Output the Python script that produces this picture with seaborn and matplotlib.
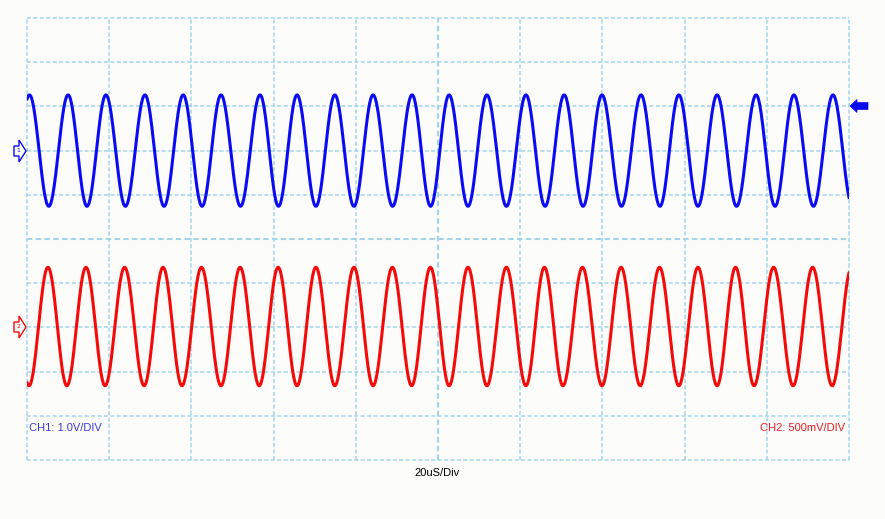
import numpy as np
import pandas as pd
import matplotlib
matplotlib.use("Agg")
import matplotlib.pyplot as plt
from matplotlib.patches import Polygon
import seaborn as sns

# ---- data (time in µs, level in screen divisions) ----
ch1_peak_times = [0.6, 10.0, 19.2, 28.7, 38.0, 47.2, 56.7, 65.7, 74.9, 84.2, 93.7,
                  102.7, 111.9, 121.4, 130.7, 139.9, 149.4, 158.6, 167.9, 177.4, 186.6, 196.1]
ch1_high = 3.26
ch1_low = 0.74

ch2_trough_times = [0.5, 9.7, 19.0, 28.5, 37.7, 47.2, 56.5, 65.7, 74.9, 84.2, 93.6,
                    102.7, 111.9, 121.4, 130.4, 139.9, 149.2, 158.6, 167.9, 176.9, 186.4, 195.9]
ch2_high = -0.64
ch2_low = -3.32

ch1_label = "CH1: 1.0V/DIV"
ch2_label = "CH2: 500mV/DIV"
time_label = "20uS/Div"
x_ticks = [0, 20, 40, 60, 80, 100, 120, 140, 160, 180, 200]
y_ticks = [-5, -4, -3, -2, -1, 0, 1, 2, 3, 4, 5]

W, H = 885, 519
BLUE = "#0a0af5"
RED = "#f50a0a"
GRID = "#a3d5ea"
BG = "#fcfcfa"


def extremes(first_times, first_val, other_val):
    """Alternate the read extremes with the opposite extremes half-way between them."""
    ts, vs = [], []
    ft = list(first_times)
    half0 = (ft[1] - ft[0]) / 2
    ts.append(ft[0] - half0); vs.append(other_val)
    for i, t in enumerate(ft):
        ts.append(t); vs.append(first_val)
        if i + 1 < len(ft):
            ts.append((t + ft[i + 1]) / 2); vs.append(other_val)
    halfn = (ft[-1] - ft[-2]) / 2
    ts.append(ft[-1] + halfn); vs.append(other_val)
    ts.append(ft[-1] + 2 * halfn); vs.append(first_val)
    return np.array(ts), np.array(vs)


def trace(ext_t, ext_v, t):
    idx = np.clip(np.searchsorted(ext_t, t, side="right") - 1, 0, len(ext_t) - 2)
    t0, t1 = ext_t[idx], ext_t[idx + 1]
    v0, v1 = ext_v[idx], ext_v[idx + 1]
    frac = (t - t0) / (t1 - t0)
    return v0 + (v1 - v0) * (1 - np.cos(np.pi * frac)) / 2


t = np.linspace(0, 200, 1601)
e1t, e1v = extremes(ch1_peak_times, ch1_high, ch1_low)
e2t, e2v = extremes(ch2_trough_times, ch2_low, ch2_high)
df = pd.concat([
    pd.DataFrame({"t": t, "v": trace(e1t, e1v, t), "ch": "CH1"}),
    pd.DataFrame({"t": t, "v": trace(e2t, e2v, t), "ch": "CH2"}),
])

sns.set_style("white")
fig = plt.figure(figsize=(W / 100, H / 100), dpi=100, facecolor=BG)
ax = fig.add_axes([27 / W, 1 - 460 / H, (849 - 27) / W, (460 - 18) / H])
ax.set_facecolor(BG)

# grid
for xv in x_ticks:
    lw = 1.5 if xv == 100 else 1.1
    ax.axvline(xv, color=GRID, lw=lw, ls=(0, (2.6, 1.6)), clip_on=False, zorder=1)
for yv in y_ticks:
    lw = 1.5 if yv == 0 else 1.1
    ax.axhline(yv, color=GRID, lw=lw, ls=(0, (2.6, 1.6)), clip_on=False, zorder=1)

sns.lineplot(data=df, x="t", y="v", hue="ch", palette={"CH1": BLUE, "CH2": RED},
             legend=False, linewidth=2.2, sort=False, estimator=None, ax=ax, zorder=3)

ax.set_xlim(0, 200)
ax.set_ylim(-5, 5)
ax.set_xticks([])
ax.set_yticks([])
ax.set_xlabel("")
ax.set_ylabel("")
for s in ax.spines.values():
    s.set_visible(False)

ax.text(0.5, -4.28, ch1_label, color="#3a3ad6", fontsize=8,
        family=["Liberation Sans", "DejaVu Sans"], va="center", ha="left")
ax.text(199.0, -4.28, ch2_label, color="#ea1c24", fontsize=8,
        family=["Liberation Sans", "DejaVu Sans"], va="center", ha="right")
fig.text(437 / W, 1 - 473 / H, time_label, color="black", fontsize=8,
         family=["Liberation Sans", "DejaVu Sans"], va="center", ha="center")


def px(points):
    return [(x / W, 1 - y / H) for x, y in points]


def channel_marker(cy, color, label):
    pts = [(14, cy - 5), (19, cy - 5), (19, cy - 11), (26, cy), (19, cy + 11),
           (19, cy + 5), (14, cy + 5)]
    fig.add_artist(Polygon(px(pts), closed=True, transform=fig.transFigure,
                           facecolor="white", edgecolor=color, lw=1.0))
    fig.text(18.5 / W, 1 - cy / H, label, color=color, fontsize=4.5,
             va="center", ha="center")


channel_marker(151, BLUE, "1")
channel_marker(327, RED, "2")

trig = [(850, 106), (857, 99.5), (857, 102.5), (868, 102.5), (868, 109.5),
        (857, 109.5), (857, 112.5)]
fig.add_artist(Polygon(px(trig), closed=True, transform=fig.transFigure,
                       facecolor=BLUE, edgecolor=BLUE, lw=0.5))

fig.savefig("out.png", dpi=100, facecolor=BG)
